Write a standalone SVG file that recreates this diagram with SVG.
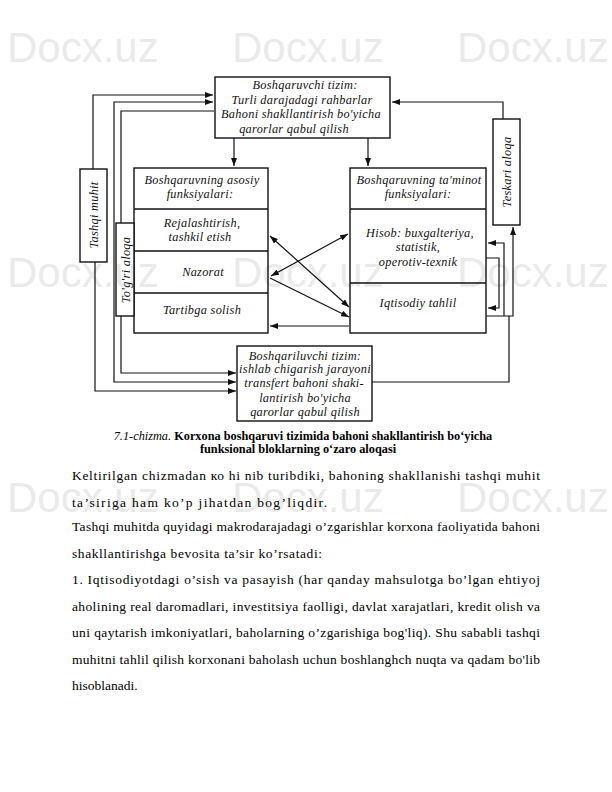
<svg xmlns="http://www.w3.org/2000/svg" width="612" height="792" viewBox="0 0 612 792">
<style>
.box{fill:#fff;stroke:#111;stroke-width:1.4}
.ln{fill:none;stroke:#111;stroke-width:1.2}
.t{font-family:"Liberation Serif",serif;font-style:italic;font-size:12.3px;letter-spacing:0.3px;fill:#111;text-anchor:middle}
.body{font-family:"Liberation Serif",serif;font-size:13.5px;fill:#000}
.cap{font-family:"Liberation Serif",serif;font-size:12.3px;fill:#000;text-anchor:middle}
.wm{font-family:"Liberation Sans",sans-serif;font-size:42px;fill:#000;opacity:0.08}
</style>
<defs>
<marker id="ah" markerUnits="userSpaceOnUse" markerWidth="8" markerHeight="6" refX="8" refY="3" orient="auto-start-reverse">
<path d="M0,0 L8,3 L0,6 z" fill="#111"/>
</marker>
</defs>
<g id="connectors">
<path class="ln" d="M234,138 V166" marker-end="url(#ah)"/>
<path class="ln" d="M368,138 V166" marker-end="url(#ah)"/>
<path class="ln" d="M503,119 V102 H392" marker-end="url(#ah)"/>
<path class="ln" d="M93,169 V95 H213" marker-end="url(#ah)"/>
<path class="ln" d="M95,262 V391 H236" marker-end="url(#ah)"/>
<path class="ln" d="M114,240 V102 H213" marker-end="url(#ah)"/>
<path class="ln" d="M114,240 V382 H236" marker-end="url(#ah)"/>
<path class="ln" d="M214,111 H121 V373 H236" marker-end="url(#ah)"/>
<path class="ln" d="M372,382 H509 V316"/>
<path class="ln" d="M486,316 H513 V227" marker-end="url(#ah)"/>
<path class="ln" d="M504,316 V243 H488" marker-end="url(#ah)"/>
<path class="ln" d="M486,258 H499 V308 H488" marker-end="url(#ah)"/>
<path class="ln" d="M270,236 L349,307" marker-start="url(#ah)" marker-end="url(#ah)"/>
<path class="ln" d="M271,276 L348,234" marker-start="url(#ah)" marker-end="url(#ah)"/>
<path class="ln" d="M270,278 L349,317" marker-end="url(#ah)"/>
<path class="ln" d="M349,326 H270" marker-end="url(#ah)"/>
</g>
<g id="top">
<rect class="box" x="215" y="77" width="175" height="61"/>
<text class="t" x="305" y="89">Boshqaruvchi tizim:</text>
<text class="t" x="302" y="104">Turli darajadagi rahbarlar</text>
<text class="t" x="301" y="118">Bahoni shakllantirish bo'yicha</text>
<text class="t" x="294" y="133">qarorlar qabul qilish</text>
</g>
<g id="left-functions">
<rect class="box" x="134" y="168" width="134" height="165"/>
<line class="box" x1="134" y1="209" x2="268" y2="209"/>
<line class="box" x1="134" y1="251" x2="268" y2="251"/>
<line class="box" x1="134" y1="293" x2="268" y2="293"/>
<text class="t" x="202" y="184">Boshqaruvning asosiy</text>
<text class="t" x="200" y="198">funksiyalari:</text>
<text class="t" x="202" y="227">Rejalashtirish,</text>
<text class="t" x="200" y="241">tashkil etish</text>
<text class="t" x="203" y="276">Nazorat</text>
<text class="t" x="202" y="314">Tartibga solish</text>
</g>
<g id="right-functions">
<rect class="box" x="350" y="168" width="136" height="165"/>
<line class="box" x1="350" y1="209" x2="486" y2="209"/>
<line class="box" x1="350" y1="283" x2="486" y2="283"/>
<text class="t" x="419" y="184">Boshqaruvning ta'minot</text>
<text class="t" x="418" y="198">funksiyalari:</text>
<text class="t" x="420" y="237">Hisob: buxgalteriya,</text>
<text class="t" x="418" y="251">statistik,</text>
<text class="t" x="418" y="266">operotiv-texnik</text>
<text class="t" x="418" y="307">Iqtisodiy tahlil</text>
</g>
<g id="tashqi-muhit">
<rect class="box" x="80" y="169" width="27" height="93"/>
<text class="t" transform="translate(97.5,215) rotate(-90)">Tashqi muhit</text>
</g>
<g id="togri-aloqa">
<rect class="box" x="116" y="223" width="18" height="93"/>
<text class="t" transform="translate(129.5,270) rotate(-90)">To'g'ri aloqa</text>
</g>
<g id="teskari-aloqa">
<rect class="box" x="493" y="119" width="27" height="106"/>
<text class="t" transform="translate(511,172) rotate(-90)">Teskari aloqa</text>
</g>
<g id="bottom">
<rect class="box" x="237" y="346" width="135" height="75"/>
<text class="t" x="305" y="360">Boshqariluvchi tizim:</text>
<text class="t" x="305" y="373">ishlab chigarish jarayoni</text>
<text class="t" x="304" y="387">transfert bahoni shaki-</text>
<text class="t" x="305" y="402">lantirish bo'yicha</text>
<text class="t" x="305" y="416">qarorlar qabul qilish</text>
</g>
<g id="caption">
<text class="cap" x="303" y="440"><tspan font-style="italic">7.1-chizma.</tspan> <tspan font-weight="bold">Korxona boshqaruvi tizimida bahoni shakllantirish bo‘yicha</tspan></text>
<text class="cap" x="298" y="453" font-weight="bold">funksional bloklarning o‘zaro aloqasi</text>
</g>
<g id="body">
<text class="body" x="72" y="480" textLength="468" lengthAdjust="spacing">Keltirilgan chizmadan ко hi nib turibdiki, bahoning shakllanishi tashqi muhit</text>
<text class="body" x="72" y="507" textLength="255" lengthAdjust="spacing">ta’siriga ham ko’p jihatdan bog’liqdir.</text>
<text class="body" x="72" y="531" textLength="468" lengthAdjust="spacing">Tashqi muhitda quyidagi makrodarajadagi o’zgarishlar korxona faoliyatida bahoni</text>
<text class="body" x="72" y="558" textLength="250" lengthAdjust="spacing">shakllantirishga bevosita ta’sir ko’rsatadi:</text>
<text class="body" x="72" y="584" textLength="468" lengthAdjust="spacing">1. Iqtisodiyotdagi o’sish va pasayish (har qanday mahsulotga bo’lgan ehtiyoj</text>
<text class="body" x="72" y="611" textLength="468" lengthAdjust="spacing">aholining real daromadlari, investitsiya faolligi, davlat xarajatlari, kredit olish va</text>
<text class="body" x="72" y="637" textLength="468" lengthAdjust="spacing">uni qaytarish imkoniyatlari, baholarning o’zgarishiga bog'liq). Shu sababli tashqi</text>
<text class="body" x="72" y="664" textLength="468" lengthAdjust="spacing">muhitni tahlil qilish korxonani baholash uchun boshlanghch nuqta va qadam bo'lib</text>
<text class="body" x="72" y="690">hisoblanadi.</text>
</g>
<g id="watermark">
<text class="wm" x="7" y="62">Docx.uz</text>
<text class="wm" x="232" y="62">Docx.uz</text>
<text class="wm" x="457" y="62">Docx.uz</text>
<text class="wm" x="7" y="287">Docx.uz</text>
<text class="wm" x="232" y="287">Docx.uz</text>
<text class="wm" x="457" y="287">Docx.uz</text>
<text class="wm" x="7" y="512">Docx.uz</text>
<text class="wm" x="232" y="512">Docx.uz</text>
<text class="wm" x="457" y="512">Docx.uz</text>
</g>
</svg>
